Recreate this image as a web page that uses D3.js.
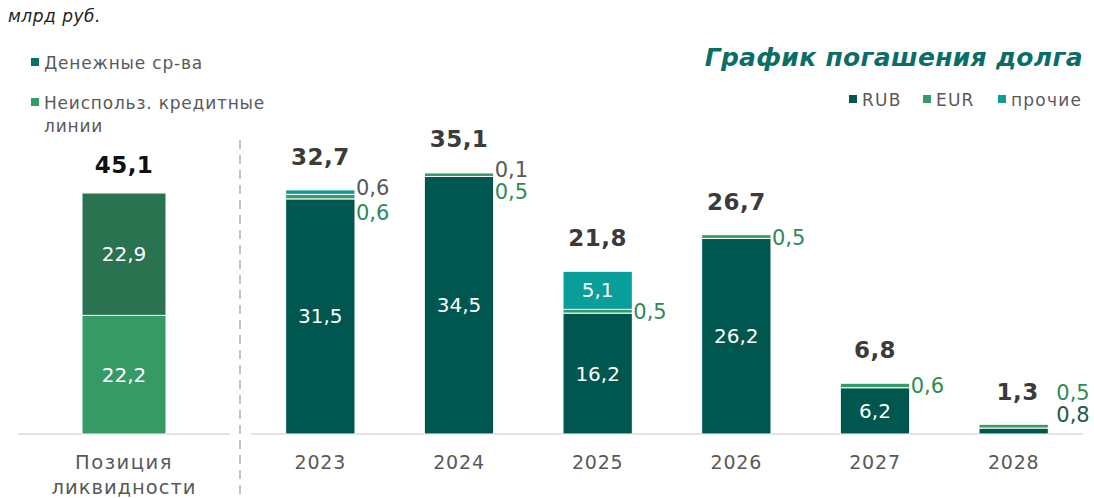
<!DOCTYPE html>
<head>
    <meta charset="utf-8">
    <title>График погашения долга</title>
    <style>
        body { margin: 0; background: #fff; }
        text { font-family: "DejaVu Sans", sans-serif; }
    </style>
</head>

<script src="https://d3js.org/d3.v7.min.js"></script>

<div id="my_dataviz"></div>

<script>
    // data
    var years = ["2023", "2024", "2025", "2026", "2027", "2028"];
    var rub = [31.5, 34.5, 16.2, 26.2, 6.2, 0.8];
    var eur = [0.6, 0.5, 0.5, 0.5, 0.6, 0.5];
    var other = [0.6, 0.1, 5.1, 0, 0, 0];
    var totals = [32.7, 35.1, 21.8, 26.7, 6.8, 1.3];

    var liqCategory = ["Позиция ликвидности"];
    var liqCash = [22.9];
    var liqCredit = [22.2];
    var liqTotal = [45.1];

    var seriesNames = ["RUB", "EUR", "прочие"];
    var seriesColors = ["#00574f", "#379a68", "#0a9e9a"];
    var liqNames = ["Денежные ср-ва", "Неиспольз. кредитные линии"];
    var liqColors = ["#2a7350", "#369a67"];

    var W = 1094, H = 498, base = 434;
    var fmt = function (v) { return String(v).replace(".", ","); };

    var svg = d3.select("#my_dataviz")
      .append("svg")
      .attr("width", W)
      .attr("height", H);

    // scales
    var x = d3.scaleBand().domain(years).range([251, 1083]).paddingInner(0.5).paddingOuter(0.25);
    var y = d3.scaleLinear().domain([0, 35.1]).range([base, 172]);
    var xl = d3.scaleBand().domain(liqCategory).range([82, 166]).padding(0);
    var yl = d3.scaleLinear().domain([0, 45.1]).range([base, 193]);

    // baselines
    svg.append("line").attr("x1", 18).attr("x2", 230).attr("y1", base).attr("y2", base)
      .attr("stroke", "#d9d9d9").attr("stroke-width", 1.5);
    svg.append("line").attr("x1", 251).attr("x2", 1083).attr("y1", base).attr("y2", base)
      .attr("stroke", "#d9d9d9").attr("stroke-width", 1.5);

    // dashed separator
    svg.append("line").attr("x1", 240).attr("x2", 240).attr("y1", 140).attr("y2", H)
      .attr("stroke", "#b0b0b0").attr("stroke-width", 1.5).attr("stroke-dasharray", "9,6");

    // stacked data for repayment bars
    var rows = years.map(function (yr, i) {
        return { year: yr, RUB: rub[i], EUR: eur[i], "прочие": other[i] };
    });
    var stack = d3.stack().keys(seriesNames)(rows);

    svg.append("g")
      .selectAll("g")
      .data(stack)
      .enter()
      .append("g")
        .attr("fill", function (d, i) { return seriesColors[i]; })
      .selectAll("rect")
      .data(function (d) { return d.filter(function (s) { return s[1] - s[0] > 0; }); })
      .enter()
      .append("rect")
        .attr("x", function (d) { return x(d.data.year); })
        .attr("width", x.bandwidth())
        .attr("y", function (d) { return y(d[1]); })
        .attr("height", function (d) { return y(d[0]) - y(d[1]); })
        .attr("stroke", "#fff")
        .attr("stroke-width", 1);

    var big = { "font-size": "23px", "font-weight": "bold", "fill": "#3b3b3b", "letter-spacing": "0.5px" };

    // totals
    svg.append("g")
      .selectAll("text")
      .data(years)
      .enter()
      .append("text")
        .attr("x", function (d) { return x(d) + x.bandwidth() / 2 + (d == "2028" ? 4 : 0); })
        .attr("y", function (d, i) { return d == "2028" ? 400 : y(totals[i]) - 25; })
        .attr("text-anchor", "middle")
        .style("font-size", big["font-size"])
        .style("font-weight", big["font-weight"])
        .style("letter-spacing", big["letter-spacing"])
        .style("fill", big.fill)
        .text(function (d, i) { return fmt(totals[i]); });

    // labels inside RUB bars
    svg.append("g")
      .selectAll("text")
      .data(years.filter(function (d, i) { return rub[i] > 3; }))
      .enter()
      .append("text")
        .attr("x", function (d) { return x(d) + x.bandwidth() / 2; })
        .attr("y", function (d) { var i = years.indexOf(d); return (y(0) + y(rub[i])) / 2 + 7; })
        .attr("text-anchor", "middle")
        .style("font-size", "20px")
        .style("fill", "#fff")
        .text(function (d) { return fmt(rub[years.indexOf(d)]); });

    // side labels
    years.forEach(function (d, i) {
        var right = x(d) + x.bandwidth() + 1;
        if (other[i] > 3) {
            svg.append("text")
              .attr("x", x(d) + x.bandwidth() / 2)
              .attr("y", (y(rub[i] + eur[i]) + y(rub[i] + eur[i] + other[i])) / 2 + 7)
              .attr("text-anchor", "middle")
              .style("font-size", "20px").style("fill", "#fff")
              .text(fmt(other[i]));
        } else if (other[i] > 0) {
            svg.append("text")
              .attr("x", right)
              .attr("y", y(totals[i]) + 5)
              .style("font-size", "21px").style("fill", "#595959")
              .text(fmt(other[i]));
        }
        // EUR label
        var eurY = (other[i] > 0 && other[i] <= 3) ? y(rub[i] + eur[i]) + 26 : y(rub[i] + eur[i] / 2) + 8;
        if (d == "2028") eurY = 400;
        svg.append("text")
          .attr("x", right + (d == "2028" ? 7 : 0))
          .attr("y", eurY)
          .style("font-size", "21px").style("fill", "#2e8b57")
          .text(fmt(eur[i]));
        if (rub[i] <= 3) {
            svg.append("text")
              .attr("x", right + 7)
              .attr("y", 422)
              .style("font-size", "21px").style("fill", "#1f5a4a")
              .text(fmt(rub[i]));
        }
    });

    // year labels
    svg.append("g")
      .selectAll("text")
      .data(years)
      .enter()
      .append("text")
        .attr("x", function (d) { return x(d) + x.bandwidth() / 2; })
        .attr("y", 469)
        .attr("text-anchor", "middle")
        .style("font-size", "19px")
        .style("letter-spacing", "0.8px")
        .style("fill", "#595959")
        .text(function (d) { return d; });

    // liquidity bar
    var lx = xl(liqCategory[0]), lw = xl.bandwidth();
    svg.append("rect").attr("x", lx).attr("width", lw)
      .attr("y", yl(liqCredit[0])).attr("height", yl(0) - yl(liqCredit[0]))
      .attr("fill", liqColors[1]).attr("stroke", "#fff").attr("stroke-width", 1);
    svg.append("rect").attr("x", lx).attr("width", lw)
      .attr("y", yl(liqTotal[0])).attr("height", yl(liqCredit[0]) - yl(liqTotal[0]))
      .attr("fill", liqColors[0]).attr("stroke", "#fff").attr("stroke-width", 1);
    svg.append("text").attr("x", lx + lw / 2).attr("y", (yl(0) + yl(liqCredit[0])) / 2 + 7)
      .attr("text-anchor", "middle").style("font-size", "20px").style("fill", "#fff")
      .text(fmt(liqCredit[0]));
    svg.append("text").attr("x", lx + lw / 2).attr("y", (yl(liqCredit[0]) + yl(liqTotal[0])) / 2 + 7)
      .attr("text-anchor", "middle").style("font-size", "20px").style("fill", "#fff")
      .text(fmt(liqCash[0]));
    svg.append("text").attr("x", lx + lw / 2).attr("y", yl(liqTotal[0]) - 20)
      .attr("text-anchor", "middle").style("font-size", "23px").style("font-weight", "bold")
      .style("letter-spacing", "0.5px").style("fill", "#111").text(fmt(liqTotal[0]));
    svg.append("text").attr("x", lx + lw / 2).attr("y", 469)
      .attr("text-anchor", "middle").style("font-size", "19.5px").style("letter-spacing", "1.5px")
      .style("fill", "#595959").text("Позиция");
    svg.append("text").attr("x", lx + lw / 2).attr("y", 494)
      .attr("text-anchor", "middle").style("font-size", "19.5px").style("letter-spacing", "1px")
      .style("fill", "#595959").text("ликвидности");

    // unit
    svg.append("text").attr("x", 8).attr("y", 22)
      .style("font-size", "17px").style("font-style", "italic").style("letter-spacing", "0.5px")
      .style("fill", "#222").text("млрд руб.");

    // left legend
    var leg = function (sel) {
        return sel.style("font-size", "17px").style("letter-spacing", "0.8px").style("fill", "#595959");
    };
    svg.append("rect").attr("x", 31).attr("y", 58).attr("width", 8).attr("height", 8).attr("fill", "#0a7068");
    leg(svg.append("text").attr("x", 44).attr("y", 69)).text(liqNames[0]);
    svg.append("rect").attr("x", 31).attr("y", 98).attr("width", 8).attr("height", 8).attr("fill", liqColors[1]);
    leg(svg.append("text").attr("x", 44).attr("y", 109)).text("Неиспольз. кредитные");
    leg(svg.append("text").attr("x", 44).attr("y", 132)).text("линии");

    // title
    svg.append("text").attr("x", 1083).attr("y", 66).attr("text-anchor", "end")
      .style("font-size", "25px").style("font-weight", "bold").style("font-style", "italic")
      .style("letter-spacing", "0.3px")
      .style("fill", "#0a6e66").text("График погашения долга");

    // right legend
    var legX = [849, 923, 998];
    seriesNames.forEach(function (n, i) {
        svg.append("rect").attr("x", legX[i]).attr("y", 95).attr("width", 8).attr("height", 8)
          .attr("fill", seriesColors[i]);
        leg(svg.append("text").attr("x", legX[i] + 13).attr("y", 106)).style("letter-spacing", "1.2px").text(n);
    });
</script>
